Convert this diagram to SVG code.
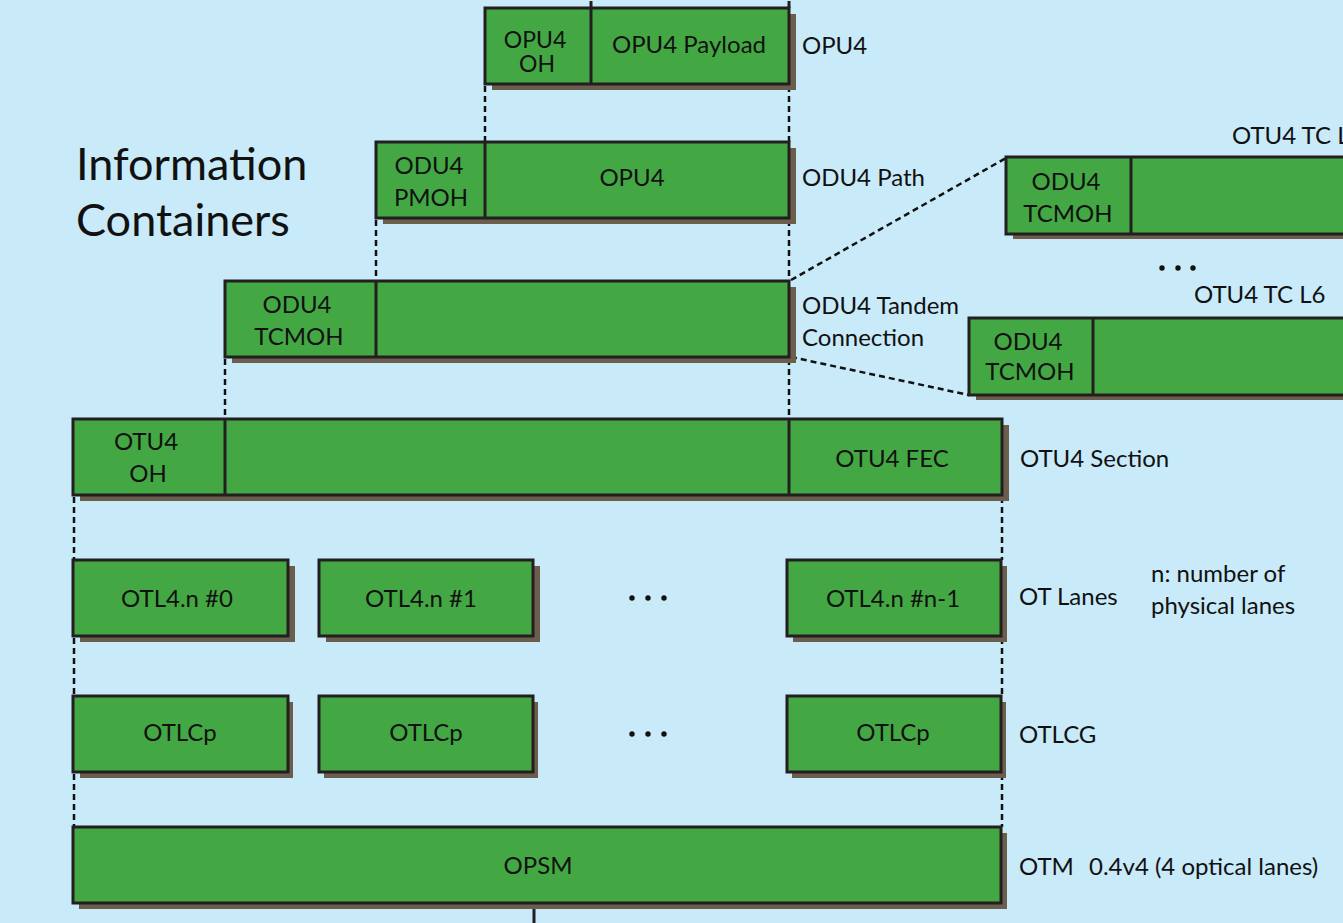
<svg xmlns="http://www.w3.org/2000/svg" width="1343" height="923" viewBox="0 0 1343 923">
<style>
.bx{fill:#43a843;stroke:#231f20;stroke-width:3}
.sh{fill:#6b5e4c}
.dv{stroke:#231f20;stroke-width:3;fill:none}
.t{font-family:Lato,"Open Sans",sans-serif;font-size:24px;fill:#111}
.c{text-anchor:middle}
.big{font-family:Lato,"Open Sans",sans-serif;font-size:45px;fill:#111}
.dash{stroke:#111;stroke-width:2.5;stroke-dasharray:6 4;fill:none}
.dot{fill:#111}
</style>
<rect width="1343" height="923" fill="#c8eaf9"/>
<g id="title">
<text class="big" x="76" y="180">Information</text>
<text class="big" x="76" y="236">Containers</text>
</g>
<g id="connectors">
<line class="dash" x1="485" y1="86" x2="485" y2="142"/>
<line class="dash" x1="789" y1="86" x2="789" y2="142"/>
<line class="dash" x1="376" y1="220" x2="376" y2="281"/>
<line class="dash" x1="789" y1="220" x2="789" y2="281"/>
<line class="dash" x1="225" y1="359" x2="225" y2="419"/>
<line class="dash" x1="789" y1="359" x2="789" y2="419"/>
<line class="dash" x1="74" y1="497" x2="74" y2="560"/>
<line class="dash" x1="1002" y1="497" x2="1002" y2="560"/>
<line class="dash" x1="74" y1="638" x2="74" y2="696"/>
<line class="dash" x1="1002" y1="638" x2="1002" y2="696"/>
<line class="dash" x1="74" y1="774" x2="74" y2="827"/>
<line class="dash" x1="1002" y1="774" x2="1002" y2="827"/>
<line class="dash" x1="791" y1="280" x2="1006" y2="158"/>
<line class="dash" x1="791" y1="357" x2="969" y2="395"/>
<line class="dv" x1="591" y1="1" x2="591" y2="8"/>
<line class="dv" x1="789" y1="1" x2="789" y2="8"/>
<line class="dv" x1="534" y1="903" x2="534" y2="923"/>
</g>
<g id="opu4">
<rect class="sh" x="492" y="14" width="304" height="76"/>
<rect class="bx" x="485" y="8" width="304" height="76"/>
<line class="dv" x1="591" y1="8" x2="591" y2="84"/>
<text class="t c" x="535" y="48" style="font-size:23px">OPU4</text>
<text class="t c" x="537" y="72" style="font-size:23px">OH</text>
<text class="t c" x="689" y="53">OPU4 Payload</text>
<text class="t" x="802" y="54">OPU4</text>
</g>
<g id="odu4-path">
<rect class="sh" x="383" y="148" width="413" height="76"/>
<rect class="bx" x="376" y="142" width="413" height="76"/>
<line class="dv" x1="485" y1="142" x2="485" y2="218"/>
<text class="t c" x="429" y="174">ODU4</text>
<text class="t c" x="431" y="206">PMOH</text>
<text class="t c" x="632" y="186">OPU4</text>
<text class="t" x="802" y="186">ODU4 Path</text>
</g>
<g id="odu4-tc">
<rect class="sh" x="232" y="287" width="564" height="76"/>
<rect class="bx" x="225" y="281" width="564" height="76"/>
<line class="dv" x1="376" y1="281" x2="376" y2="357"/>
<text class="t c" x="297" y="313">ODU4</text>
<text class="t c" x="299" y="345">TCMOH</text>
<text class="t" x="802" y="314">ODU4 Tandem</text>
<text class="t" x="802" y="346">Connection</text>
</g>
<g id="tc-l1">
<rect class="sh" x="1013" y="163" width="340" height="76"/>
<rect class="bx" x="1006" y="157" width="345" height="77"/>
<line class="dv" x1="1131" y1="157" x2="1131" y2="234"/>
<text class="t c" x="1066" y="190">ODU4</text>
<text class="t c" x="1068" y="222">TCMOH</text>
<text class="t" x="1232" y="144">OTU4 TC L1</text>
</g>
<g id="tc-dots">
<circle class="dot" cx="1162" cy="268" r="2.7"/>
<circle class="dot" cx="1178" cy="268" r="2.7"/>
<circle class="dot" cx="1193" cy="268" r="2.7"/>
</g>
<g id="tc-l6">
<rect class="sh" x="976" y="324" width="377" height="76"/>
<rect class="bx" x="969" y="318" width="382" height="77"/>
<line class="dv" x1="1093" y1="318" x2="1093" y2="395"/>
<text class="t c" x="1028" y="350">ODU4</text>
<text class="t c" x="1030" y="380">TCMOH</text>
<text class="t" x="1194" y="303">OTU4 TC L6</text>
</g>
<g id="otu4">
<rect class="sh" x="80" y="425" width="929" height="76"/>
<rect class="bx" x="73" y="419" width="929" height="76"/>
<line class="dv" x1="225" y1="419" x2="225" y2="495"/>
<line class="dv" x1="789" y1="419" x2="789" y2="495"/>
<text class="t c" x="146" y="450">OTU4</text>
<text class="t c" x="148" y="482">OH</text>
<text class="t c" x="892" y="467">OTU4 FEC</text>
<text class="t" x="1020" y="467">OTU4 Section</text>
</g>
<g id="otl0">
<rect class="sh" x="80" y="566" width="215" height="76"/>
<rect class="bx" x="73" y="560" width="215" height="76"/>
<text class="t c" x="177" y="607">OTL4.n #0</text>
</g>
<g id="otl1">
<rect class="sh" x="326" y="566" width="214" height="76"/>
<rect class="bx" x="319" y="560" width="214" height="76"/>
<text class="t c" x="421" y="607">OTL4.n #1</text>
</g>
<g id="otl-dots">
<circle class="dot" cx="632" cy="598" r="2.7"/>
<circle class="dot" cx="648" cy="598" r="2.7"/>
<circle class="dot" cx="664" cy="598" r="2.7"/>
</g>
<g id="otln">
<rect class="sh" x="793" y="566" width="214" height="76"/>
<rect class="bx" x="787" y="560" width="214" height="76"/>
<text class="t c" x="893" y="607">OTL4.n #n-1</text>
<text class="t" x="1019" y="605">OT Lanes</text>
<text class="t" x="1151" y="582">n: number of</text>
<text class="t" x="1151" y="614">physical lanes</text>
</g>
<g id="otlcp0">
<rect class="sh" x="80" y="702" width="213" height="76"/>
<rect class="bx" x="73" y="696" width="215" height="76"/>
<text class="t c" x="180" y="741">OTLCp</text>
</g>
<g id="otlcp1">
<rect class="sh" x="324" y="702" width="214" height="76"/>
<rect class="bx" x="319" y="696" width="214" height="76"/>
<text class="t c" x="426" y="741">OTLCp</text>
</g>
<g id="otlcp-dots">
<circle class="dot" cx="632" cy="734" r="2.7"/>
<circle class="dot" cx="648" cy="734" r="2.7"/>
<circle class="dot" cx="664" cy="734" r="2.7"/>
</g>
<g id="otlcpn">
<rect class="sh" x="792" y="702" width="214" height="76"/>
<rect class="bx" x="787" y="696" width="214" height="76"/>
<text class="t c" x="893" y="741">OTLCp</text>
<text class="t" x="1019" y="743">OTLCG</text>
</g>
<g id="opsm">
<rect class="sh" x="79" y="833" width="928" height="76"/>
<rect class="bx" x="73" y="827" width="928" height="76"/>
<text class="t c" x="538" y="874">OPSM</text>
<text class="t" x="1019" y="875">OTM</text>
<text class="t" x="1089" y="875">0.4v4 (4 optical lanes)</text>
</g>
</svg>
